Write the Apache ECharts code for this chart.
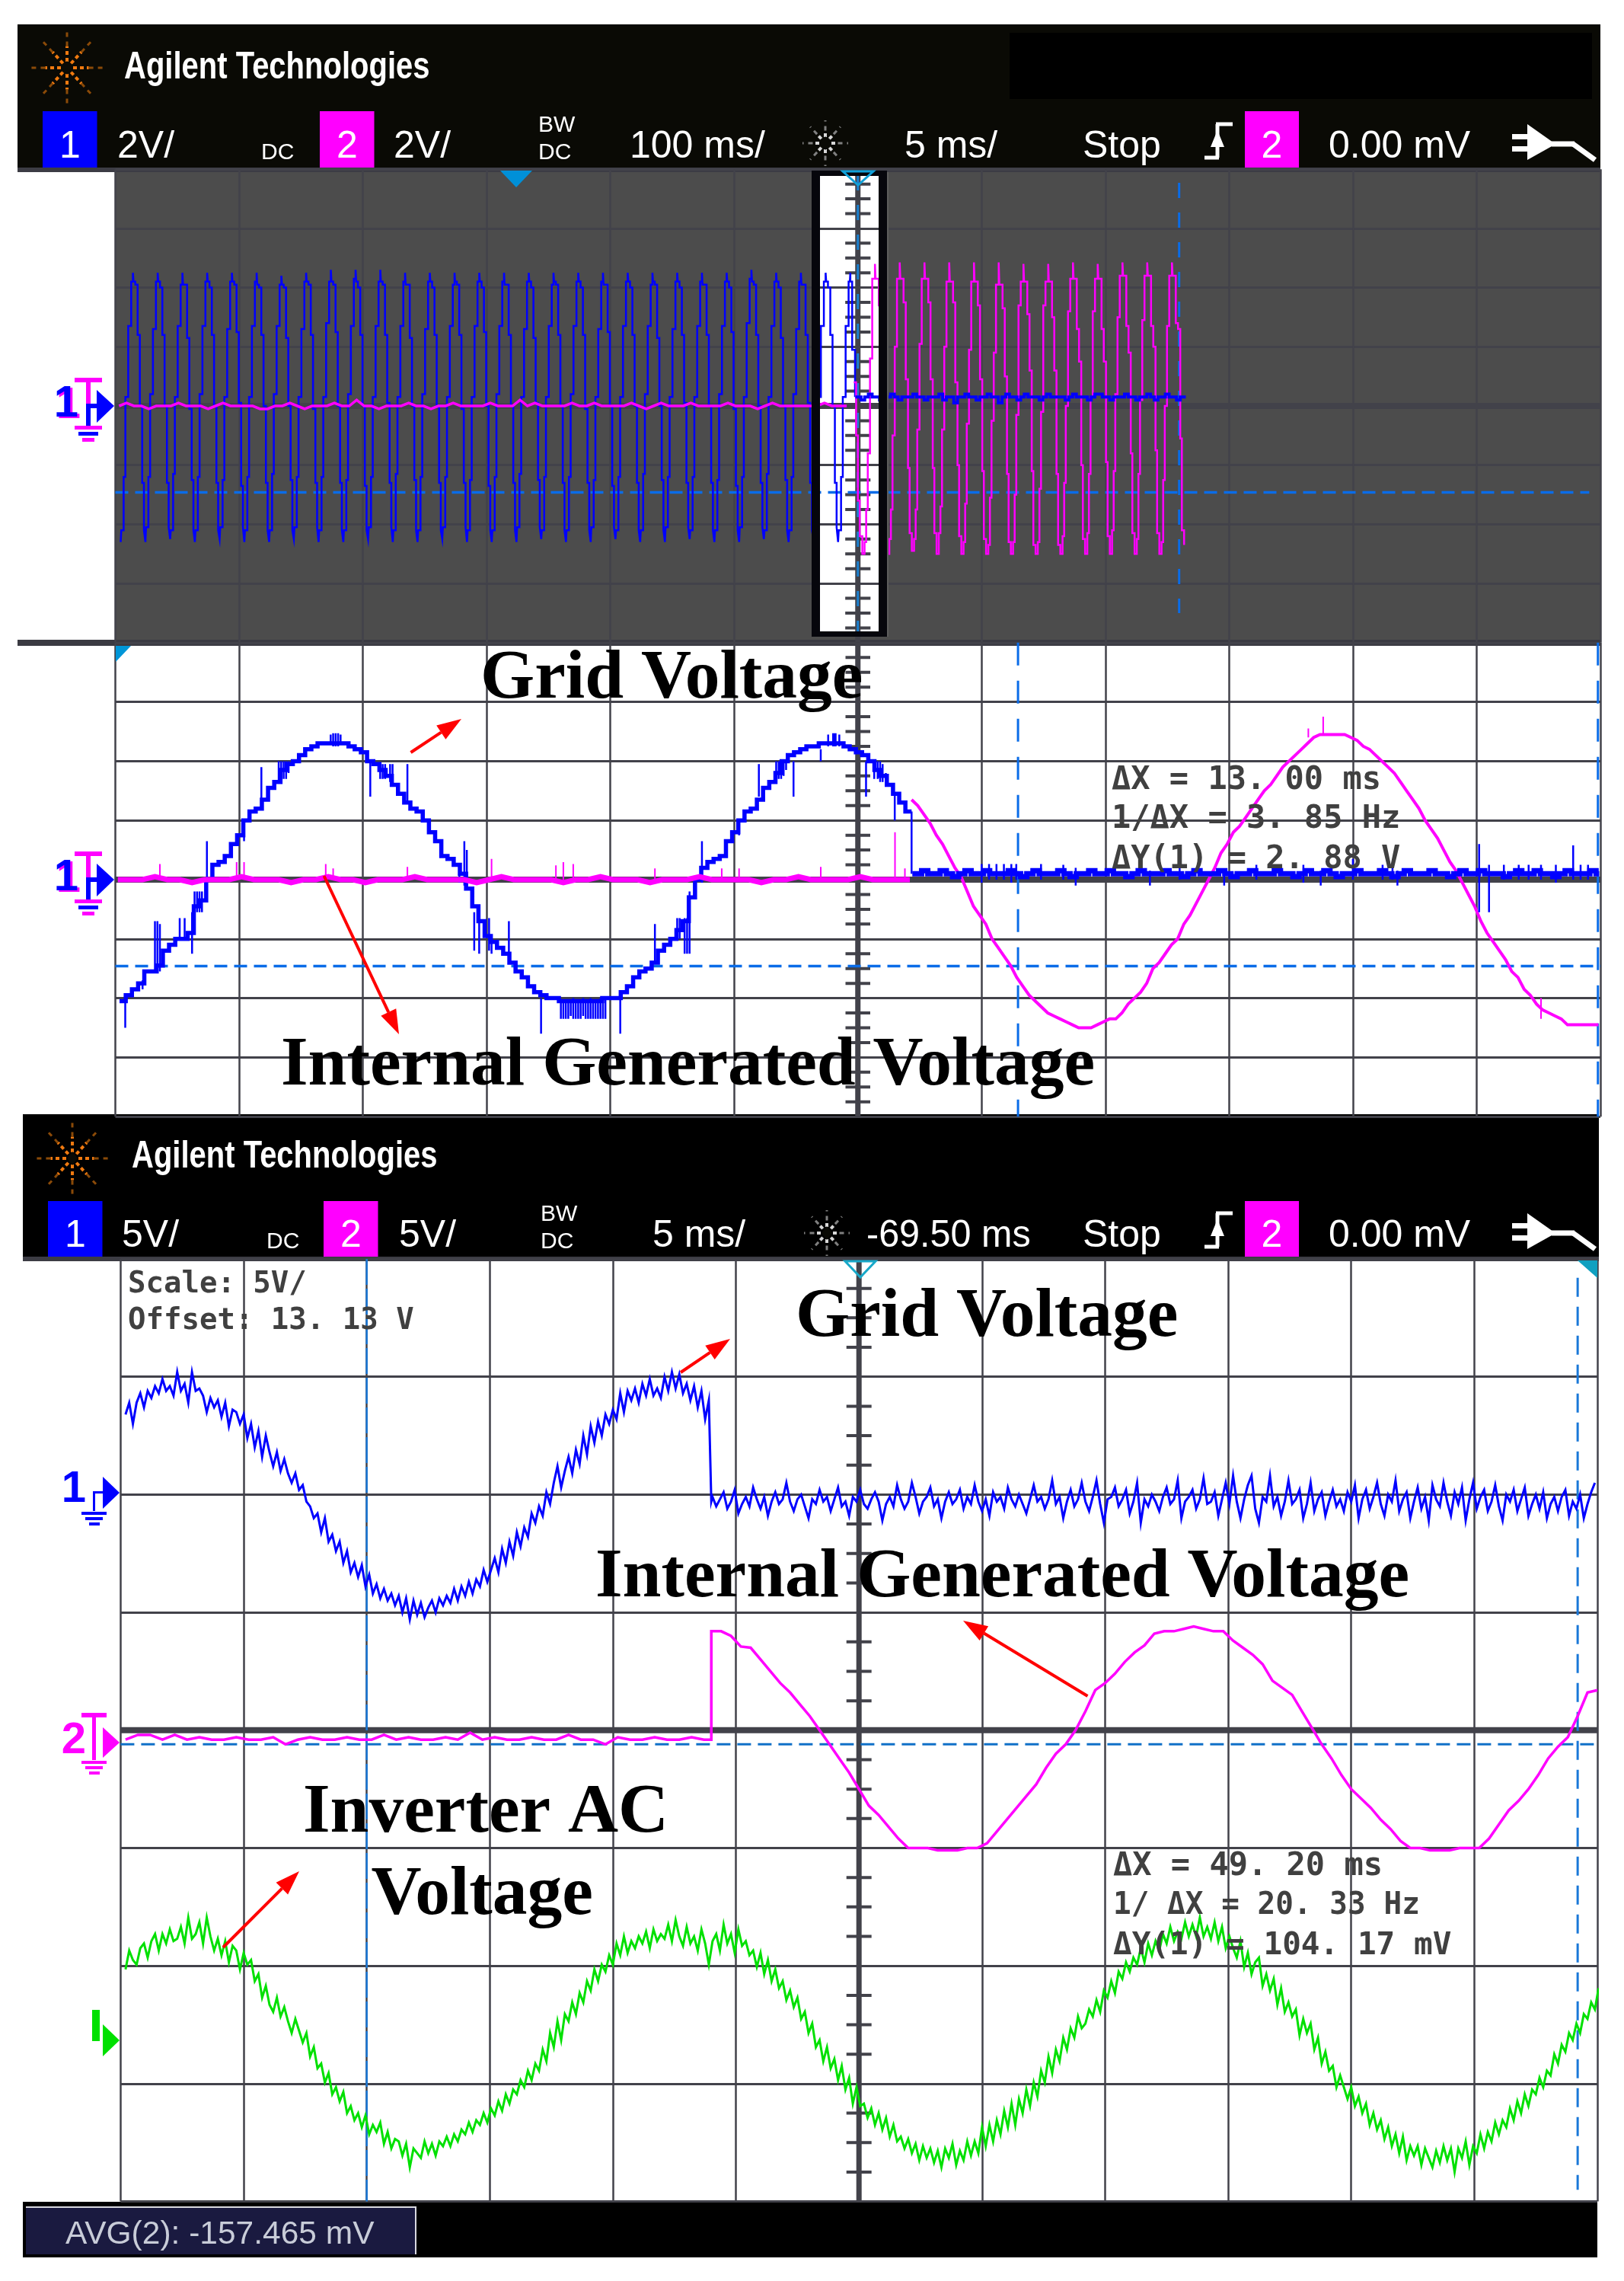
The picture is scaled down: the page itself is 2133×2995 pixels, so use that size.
<!DOCTYPE html>
<html>
<head>
<meta charset="utf-8">
<title>Agilent scope captures</title>
<script src="https://cdn.jsdelivr.net/npm/echarts@6/dist/echarts.min.js"></script>
<style>html,body{margin:0;background:#fff}#c{width:2133px;height:2995px}</style>
</head>
<body>
<div id="c"></div>
<script>
// ---- panel 1: overview, 100 ms/div, 2 V/div. one row = one cycle of the stepped wave
const ch1OverviewStart = -595.7, ch1OverviewPeriod = 19.99;
const ch1OverviewOffsets = [0, 0.5, 2.4, 3.8, 6.1, 8.5, 9.9, 10.4, 11.8, 13.7, 15.5, 17.4, 18.8];
const ch1OverviewCycles = [
  [-4.6,-4.2,-2.4,0.3,2.7,4.2,4.5,4.2,4.1,2.4,0.0,-2.6,-4.2],
  [-4.6,-4.1,-2.4,0.4,2.6,4.2,4.5,4.2,4.0,2.4,0.0,-2.6,-4.1],
  [-4.5,-4.2,-2.3,0.3,2.7,4.1,4.5,4.1,4.1,2.3,-0.1,-2.5,-4.2],
  [-4.6,-4.2,-2.4,0.4,2.7,4.2,4.5,4.2,4.0,2.4,0.0,-2.6,-4.2],
  [-4.5,-4.1,-2.5,0.3,2.6,4.2,4.5,4.2,4.1,2.5,0.1,-2.7,-4.1],
  [-4.6,-4.2,-2.4,0.3,2.7,4.2,4.5,4.1,4.0,2.4,0.0,-2.6,-4.2],
  [-4.6,-4.2,-2.3,0.4,2.7,4.1,4.4,4.1,4.0,2.3,0.0,-2.5,-4.2],
  [-4.5,-4.1,-2.4,0.3,2.6,4.2,4.5,4.2,4.1,2.4,-0.1,-2.6,-4.1],
  [-4.6,-4.2,-2.4,0.3,2.8,4.2,4.6,4.2,4.1,2.5,0.0,-2.6,-4.2],
  [-4.6,-4.2,-2.5,0.4,2.7,4.3,4.6,4.2,4.0,2.4,0.0,-2.7,-4.2],
  [-4.5,-4.1,-2.4,0.3,2.7,4.2,4.6,4.2,4.1,2.4,0.1,-2.6,-4.1],
  [-4.6,-4.2,-2.3,0.3,2.7,4.2,4.5,4.1,4.1,2.3,0.0,-2.5,-4.2],
  [-4.6,-4.2,-2.4,0.4,2.6,4.2,4.5,4.2,4.0,2.4,0.0,-2.6,-4.2],
  [-4.5,-4.1,-2.4,0.3,2.7,4.1,4.5,4.2,4.1,2.4,-0.1,-2.6,-4.1],
  [-4.6,-4.2,-2.5,0.3,2.7,4.2,4.5,4.2,4.0,2.5,0.0,-2.7,-4.2],
  [-4.6,-4.2,-2.4,0.4,2.7,4.2,4.5,4.1,4.1,2.4,0.0,-2.6,-4.2],
  [-4.6,-4.1,-2.3,0.3,2.6,4.2,4.5,4.2,4.0,2.3,0.1,-2.5,-4.1],
  [-4.5,-4.2,-2.4,0.3,2.7,4.1,4.5,4.2,4.1,2.4,0.0,-2.6,-4.2],
  [-4.6,-4.2,-2.4,0.4,2.7,4.2,4.5,4.2,4.0,2.4,-0.1,-2.6,-4.2],
  [-4.6,-4.1,-2.5,0.3,2.6,4.2,4.5,4.1,4.1,2.5,0.0,-2.7,-4.1],
  [-4.5,-4.2,-2.4,0.3,2.7,4.2,4.5,4.2,4.0,2.4,0.0,-2.6,-4.2],
  [-4.6,-4.2,-2.3,0.4,2.7,4.1,4.5,4.2,4.1,2.3,0.0,-2.5,-4.2],
  [-4.6,-4.1,-2.4,0.3,2.6,4.2,4.5,4.2,4.0,2.4,0.1,-2.6,-4.1],
  [-4.5,-4.2,-2.4,0.3,2.7,4.2,4.5,4.1,4.1,2.4,0.0,-2.6,-4.2],
  [-4.6,-4.2,-2.5,0.4,2.7,4.2,4.5,4.2,4.0,2.5,-0.1,-2.7,-4.2],
  [-4.6,-4.1,-2.4,0.3,2.8,4.3,4.6,4.2,4.1,2.4,0.0,-2.6,-4.1],
  [-4.5,-4.2,-2.3,0.3,2.7,4.2,4.5,4.2,4.0,2.3,0.0,-2.5,-4.2],
  [-4.6,-4.2,-2.4,0.4,2.6,4.2,4.5,4.1,4.1,2.4,0.1,-2.6,-4.2],
  [-4.5,-4.1,-2.4,0.3,2.7,4.2,4.5,4.2,4.0,2.4,0.0,-2.6,-4.1],
  [-4.6,-4.2,-2.4,0.3,2.7,4.2,4.5]
];
const ch1OverviewTail = [[-6.5,4.2],[-4.6,1.9],[-2.3,0.3]];
const ch1OverviewFlat = [ // every 3 ms from -2 ms
  0.3,0.3,0.2,0.3,0.4,0.3,0.3,0.2,0.3,0.3,0.4,0.3,0.2,0.3,0.3,0.3,0.4,0.3,0.3,0.2,
  0.3,0.3,0.3,0.4,0.2,0.3,0.3,0.1,0.3,0.3,0.4,0.3,0.3,0.2,0.3,0.3,0.4,0.3,0.3,0.1,
  0.3,0.4,0.3,0.3,0.2,0.3,0.4,0.3,0.3,0.3,0.2,0.3,0.4,0.3,0.3,0.3,0.3,0.2,0.3,0.4,
  0.3,0.3,0.3,0.2,0.3,0.4,0.4,0.3,0.3,0.2,0.3,0.3,0.3,0.4,0.3,0.3,0.2,0.3,0.3,0.4,
  0.3,0.2,0.3,0.3,0.4,0.3,0.3,0.2,0.3,0.3
];
const ch2OverviewFlat = [ // every 6 ms from -597 ms
  0,0.1,0,0,-0.1,0,0,0,0.1,0,0,0,-0.1,0,0.1,0,0,0,0,-0.1,-0.1,0,0,0.1,0,-0.1,0,0,0,0.1,
  0,0,0.2,0,0,-0.1,0,0,0,0.1,0,0,-0.1,0,0,0.1,0,0,0,0,0.1,0,0,0,0.2,0,0.1,0,0,0,
  0,0.1,0,0,0.1,0,0,0,0,0.1,0,-0.1,0,0.1,0,0,0,0.1,0,0,0,0,0.1,0,0,0,-0.1,0,0.1,0,
  0,0,0,0,0,0.1,0,0,0
];
const ch2OverviewLead = [[-3.3,0.8],[-1.4,-1.0],[0,-3.2],[1.5,-4.4]];
const ch2OverviewStart = 3.6, ch2OverviewPeriod = 20;
const ch2OverviewOffsets = [0, 1.8, 3.1, 4.4, 6.2, 8, 10.2, 10.7, 13.3, 15.1, 16.9, 18.2];
const ch2OverviewCycles = [
  [-5.0,-4.6,-3.5,-1.6,1.6,4.3,4.8,4.3,3.4,0.9,-2.2,-4.2],
  [-5.0,-4.5,-3.5,-1.0,2.0,4.3,4.85,4.3,3.5,0.9,-2.1,-4.3],
  [-4.9,-4.5,-3.5,-0.8,2.1,4.3,4.85,4.3,3.5,0.9,-2.1,-4.3],
  [-5.0,-4.3,-3.4,-0.8,2.0,4.2,4.85,4.2,3.5,0.8,-2.0,-4.4],
  [-5.0,-4.6,-3.3,-0.6,1.9,4.2,4.85,4.2,3.4,0.9,-2.2,-4.5],
  [-5.0,-4.7,-3.1,-0.5,1.8,4.1,4.85,4.1,3.3,1.0,-2.3,-4.6],
  [-5.0,-4.6,-3.0,-0.3,3.4,4.2,4.8,4.2,3.1,1.2,-2.2,-4.7],
  [-5.0,-4.6,-2.8,-0.2,3.4,4.2,4.8,4.2,3.0,1.2,-2.3,-4.7],
  [-5.0,-4.4,-2.6,0.0,3.2,4.3,4.85,4.3,2.6,1.5,-2.0,-4.5],
  [-5.0,-4.3,-2.3,0.3,3.2,4.3,4.8,4.3,2.6,1.5,-1.9,-4.4],
  [-5.0,-4.2,-2.2,0.4,3.0,4.4,4.85,4.4,2.7,1.8,-1.6,-4.3],
  [-5.0,-4.5,-2.3,0.2,2.9,4.4,4.85,4.4,2.7,2.0,-1.5,-4.3],
  [-5.0,-4.6,-2.5,0.0,2.7,4.4,4.85,4.4,2.8,2.6,-1.1,-4.2],
  [-4.7]
];

// ---- panel 2: 5 ms/div, 2 V/div
const ch1ZoomStart = -29.83, ch1ZoomStep = 0.25;
const ch1Zoom = [
  -4.1,-3.9,-3.7,-3.5,-3.1,-3.1,-2.9,-2.4,-2.2,-2.0,-2.0,-1.8,-0.9,-0.7,0,0.5,0.6,0.8,1.2,1.5,
  2.0,2.3,2.4,2.7,3.1,3.3,3.7,3.9,4.0,4.2,4.4,4.5,4.6,4.6,4.6,4.6,4.6,4.5,4.4,4.3,
  4.0,3.9,3.7,3.5,3.2,2.9,2.6,2.4,2.3,2.0,1.6,1.3,0.8,0.7,0.5,0.2,-0.3,-0.9,-1.4,-1.9,
  -2.1,-2.3,-2.5,-2.8,-3.1,-3.3,-3.6,-3.8,-3.9,-4.0,-4.0,-4.1,-4.1,-4.1,-4.1,-4.1,-4.1,-4.1,-4.0,-4.0,
  -4.0,-3.8,-3.6,-3.3,-3.1,-3.0,-2.8,-2.4,-2.2,-2.0,-1.7,-1.4,-0.6,0,0.4,0.6,0.7,0.8,1.3,1.6,
  2.0,2.3,2.4,2.7,3.1,3.3,3.6,4.0,4.2,4.3,4.4,4.5,4.5,4.6,4.6,4.6,4.6,4.5,4.4,4.3,
  4.2,4.0,3.7,3.5,3.2,2.9,2.6,2.3,2.3
];
// glitches on the blue trace: [t, low, high]
const ch1ZoomSpikes = [
  [-29.6,-5.0,-4.0],[-28.9,-3.7,-3.4],[-28.4,-3.1,-1.4],[-28.3,-3.1,-1.4],[-28.2,-3.1,-1.5],[-27.4,-2.0,-1.3],[-27.2,-2.0,-1.3],
  [-26.9,-2.5,-1.1],[-26.8,-1.1,-0.4],[-26.7,-1.1,-0.4],[-26.6,-1.1,-0.4],[-26.5,-1.1,-0.4],[-26.3,-0.2,1.3],[-24.8,1.3,1.9],[-24.1,2.7,3.8],
  [-23.4,3.3,4.0],[-23.3,3.3,4.0],[-23.2,3.4,4.0],[-23.1,3.4,4.0],[-23.0,3.6,4.0],
  [-21.3,4.6,4.9],[-21.2,4.5,4.94],[-21.1,4.5,4.94],[-21.0,4.5,4.94],[-20.9,4.6,4.9],
  [-19.7,2.8,4.0],[-19.3,3.4,3.9],[-19.2,3.4,3.9],[-19.1,3.4,3.9],[-18.9,3.3,3.9],[-18.8,3.3,3.9],[-18.2,2.6,3.9],
  [-16.1,-0.1,0.5],[-15.9,-0.2,1.3],[-15.8,-0.2,1.0],[-15.5,-2.4,-1.1],[-15.3,-2.5,-1.1],[-14.9,-2.4,-1.3],[-14.8,-2.5,-2.0],[-14.1,-2.8,-1.4],
  [-12.8,-5.2,-4.0],[-12.0,-4.7,-4.1],[-11.9,-4.7,-4.1],[-11.8,-4.7,-4.1],[-11.7,-4.7,-4.1],[-11.6,-4.6,-4.1],[-11.5,-4.7,-4.0],[-11.4,-4.7,-4.1],
  [-11.3,-4.7,-4.1],[-11.2,-4.7,-4.1],[-11.1,-4.6,-4.0],[-11.0,-4.7,-4.1],[-10.9,-4.7,-4.1],[-10.8,-4.7,-4.0],[-10.7,-4.7,-4.1],[-10.6,-4.7,-4.1],
  [-10.5,-4.7,-4.1],[-10.4,-4.7,-4.0],[-10.3,-4.7,-4.0],[-10.2,-4.7,-4.0],[-9.6,-5.2,-4.0],[-8.2,-2.8,-1.5],[-7.3,-2.0,-1.3],[-7.2,-2.0,-1.3],
  [-7.0,-2.5,-1.3],[-6.9,-2.5,-1.3],[-6.8,-2.5,-0.4],[-6.3,-0.1,1.3],[-4.8,1.5,2.0],[-4.0,2.8,3.9],[-3.3,3.4,4.0],[-3.2,3.4,4.0],[-3.1,3.4,4.0],
  [-3.0,3.5,4.0],[-2.9,3.7,4.0],[-2.6,2.8,4.0],[-1.5,4.0,4.4],[-1.2,4.5,4.9],[-1.0,4.5,4.94],[-0.95,4.5,4.94],[-0.9,4.5,4.94],[-0.75,4.5,4.9],
  [0.33,2.8,4.0],[0.66,3.4,4.0],[0.8,3.4,4.0],[0.9,3.3,4.0],[1.0,3.3,3.9],[1.13,3.3,3.6],[1.49,2.0,2.9]
];
const ch2ZoomStart = -29.9, ch2ZoomStep = 0.5;
const ch2ZoomFlat = [
  0,0,0,0.1,0,0,-0.1,0,0,0,0.1,0,0,0,-0.1,0,0,0.1,0,0,-0.1,0,0,0,0.1,0,0,0,0,-0.1,
  0,0.1,0,0,0,0,-0.1,0,0,0.1,0,0,0,-0.1,0,0,0,0.1,0,0,0,0,-0.1,0,0,0.1,0,0,0,0,
  0.1,0,0,0,0
];
const ch2ZoomSpikes = [
  [-28.2,0.53],[-25.1,0.59],[-24.8,0.59],[-21.5,0.53],[-21.2,0.38],[-18.2,0.43],[-14.8,0.7],[-12.2,0.48],[-11.9,0.59],
  [-11.5,0.53],[-8.2,0.38],[-5.5,0.38],[-4.8,0.38],[-1.5,0.43],[1.5,1.6],[1.9,0.38]
];
const ch2ZoomWaveStart = 2.17, ch2ZoomWaveStep = 0.25;
const ch2ZoomWave = [
  2.7,2.5,2.2,1.9,1.5,1.2,0.8,0.4,0.1,-0.4,-0.9,-1.2,-1.5,-2.0,-2.3,-2.6,-2.9,-3.3,-3.6,-3.9,
  -4.1,-4.3,-4.5,-4.6,-4.7,-4.8,-4.9,-5.0,-5.0,-5.0,-4.9,-4.8,-4.7,-4.7,-4.5,-4.2,-4.0,-3.8,-3.5,-3.0,
  -2.8,-2.5,-2.2,-2.0,-1.5,-1.2,-0.8,-0.4,0,0.4,0.9,1.2,1.6,1.8,2.1,2.4,2.7,3.0,3.2,3.5,
  3.8,4.0,4.2,4.4,4.6,4.8,4.9,4.9,4.9,4.9,4.9,4.8,4.7,4.5,4.4,4.2,4.0,3.8,3.6,3.3,
  3.0,2.7,2.4,2.0,1.7,1.4,1.0,0.6,0.3,-0.1,-0.5,-0.9,-1.4,-1.8,-2.1,-2.4,-2.7,-3.1,-3.3,-3.7,
  -3.9,-4.2,-4.4,-4.5,-4.6,-4.7,-4.9,-4.9,-4.9,-4.9,-4.9,-4.9
];
const ch1ZoomFlatStart = 2.2, ch1ZoomFlatStep = 0.25;
const ch1ZoomFlat = [
  0.2,0.2,0.3,0.2,0.2,0.3,0.2,0.1,0.2,0.3,0.2,0.2,0.3,0.2,0.2,0.2,0.3,0.2,0.1,0.2,
  0.3,0.2,0.2,0.2,0.3,0.2,0.1,0.2,0.2,0.3,0.2,0.2,0.3,0.2,0.2,0.1,0.2,0.3,0.2,0.2,
  0.2,0.3,0.2,0.2,0.1,0.2,0.3,0.2,0.2,0.2,0.3,0.2,0.1,0.2,0.2,0.3,0.2,0.2,0.2,0.3,
  0.2,0.2,0.1,0.2,0.3,0.2,0.2,0.3,0.2,0.1,0.2,0.2,0.3,0.2,0.2,0.2,0.3,0.2,0.1,0.2,
  0.3,0.2,0.2,0.2,0.3,0.2,0.2,0.1,0.2,0.3,0.2,0.2,0.3,0.2,0.2,0.2,0.1,0.2,0.3,0.2,
  0.2,0.3,0.2,0.2,0.1,0.2,0.3,0.2,0.2,0.2,0.3,0.2
];
const ch1ZoomFlatSpikes = [
  [5,-0.1,0.53],[5.3,0,0.53],[5.6,0,0.53],[5.9,0,0.53],[6.2,-0.1,0.53],[6.4,0,0.53],[7.4,0,0.53],[8.3,0,0.5],[8.8,-0.2,0.4],
  [11.8,-0.2,0.3],[13,0,0.5],[14.8,-0.2,0.3],[16.1,0,0.5],[18,-0.1,0.5],[18.7,-0.2,0.3],[20,0,0.7],[21.2,0,0.5],[21.6,0,0.5],
  [21.8,-0.2,0.3],[25.1,-1.1,1.2],[25.5,-1.1,0.5],[26.1,0,0.5],[26.7,0,0.5],[27.1,0,0.5],[27.6,0,0.5],[28.2,-0.1,0.5],[28.9,0,1.16],
  [29.2,0,0.5],[29.5,0,0.5]
];
const ch2ZoomWaveSpikes = [[18.8,4.9,5.5],[18.2,4.8,5.1],[27.6,-4.7,-4.0]];

// ---- panel 3: 5 ms/div, 5 V/div, three channels
const scopeStart = -29.8, scopeStep = 0.15;
const ch1ScopeWave = [
  3.4,3.9,3.0,3.9,4.3,3.7,4.4,4.1,4.6,4.3,
  4.9,4.4,4.6,4.2,5.2,4.4,4.7,3.9,5.2,4.4,
  4.5,4.2,3.5,4.1,3.7,4.0,3.3,3.9,2.9,3.6,
  3.5,3.0,3.4,2.4,3.0,2.0,2.7,1.6,2.5,1.8,
  1.2,1.8,1.0,1.5,0.9,0.5,0.9,0.2,0.4,-0.3,
  -0.5,-1.0,-0.8,-1.6,-1.0,-2.0,-1.7,-2.4,-2.0,-2.9,
  -2.4,-3.3,-2.9,-3.5,-3.0,-3.9,-3.4,-4.2,-3.8,-4.4,
  -4.0,-4.5,-4.2,-4.7,-4.3,-5.0,-4.4,-5.3,-4.5,-5.1,
  -4.6,-5.2,-4.8,-4.5,-5.0,-4.4,-4.7,-4.3,-4.6,-4.0,
  -4.5,-3.9,-4.3,-3.7,-4.2,-3.6,-3.9,-3.2,-3.7,-3.2,
  -2.7,-3.3,-2.3,-2.9,-2.0,-2.6,-1.6,-2.2,-1.4,-1.8,
  -0.8,-1.2,-0.5,-0.9,0.1,-0.4,0.5,1.2,0.3,1.0,
  1.6,0.9,1.9,1.3,2.5,1.7,2.9,2.2,3.1,2.5,
  3.4,3.0,3.6,3.2,4.3,3.5,4.4,4.0,4.5,3.9,
  4.7,4.2,4.9,4.2,4.5,4.1,5.0,4.4,5.2,4.5,
  5.1,4.3,4.7,4.0,4.6,3.7,4.4,3.2,4.0
];
const ch1ScopeDrop = [[-6.0,-0.3]];
const ch1ScopeFlatStart = -5.95;
const ch1ScopeFlat = [
  -0.1,-0.5,-0.2,0.1,-0.6,-0.3,0.2,-0.8,-0.4,-0.1,
  -0.5,0.3,-0.2,-0.6,-0.1,-0.9,-0.3,0.1,-0.4,-0.2,
  0.5,-0.3,-0.7,-0.2,0.0,-0.5,-1.0,-0.2,-0.4,0.2,
  -0.3,-0.1,-0.7,-0.2,0.3,-0.5,-0.3,-0.9,-0.1,-0.3,
  0.2,-0.4,-0.6,-0.2,0.1,-0.3,-1.1,-0.4,-0.1,-0.5,
  0.4,-0.2,-0.6,-0.3,0.5,-0.1,-0.8,-0.3,-0.1,0.3,
  -0.5,-0.2,-1.0,-0.3,0.1,-0.4,-0.2,0.2,-0.6,-0.1,
  -0.4,0.4,-0.3,-0.7,-0.2,-0.9,0.1,-0.3,-0.1,-0.6,
  0.3,-0.2,-0.5,0.0,-0.4,-0.8,-0.2,0.4,-0.3,-0.1,
  -0.6,-0.2,0.6,-0.4,-0.1,-1.0,-0.3,0.2,-0.5,-0.2,
  0.5,-0.3,-0.7,-0.1,0.6,-0.4,-1.2,-0.2,-0.1,0.3,
  -0.5,-0.2,0.2,-0.8,-0.3,0.5,-1.2,-0.2,-0.5,0.0,
  -0.3,-0.7,-0.1,0.3,-0.4,-0.2,0.6,-1.0,-0.3,-0.1,
  0.2,-0.6,-0.2,0.7,-0.4,-0.3,0.1,-0.9,-0.2,0.5,
  -0.4,0.8,-0.3,-1.0,-0.2,0.4,0.8,-0.6,-1.2,-0.1,
  -0.3,0.8,-0.5,-0.1,-0.9,-0.3,0.6,-0.4,-0.2,0.2,
  -1.0,-0.4,0.5,-0.7,-0.2,0.1,-0.9,-0.3,0.2,-0.5,
  -0.2,-0.7,0.1,-0.3,0.4,-1.0,-0.2,0.2,-0.6,-0.1,
  0.5,-0.4,-0.9,0.0,-0.3,0.6,-0.7,-0.2,0.1,-1.0,
  -0.3,0.3,-0.6,-0.1,-1.1,0.4,-0.2,-0.5,0.5,-0.3,
  -0.9,0.1,-0.4,0.3,-1.1,-0.2,0.5,-0.6,-0.1,0.2,
  -0.7,-0.3,0.4,-0.5,-1.1,0.0,-0.3,0.2,-0.7,-0.2,
  0.3,-0.9,-0.4,0.0,-0.6,0.1,-1.0,-0.4,-0.1,-0.7,
  -0.1,0.2,-0.9,-0.3,-0.6,0.0,-1.0,-0.4,0.1,0.5
];
const ch2ScopeFlatStart = -29.8, ch2ScopeFlatStep = 0.5;
const ch2ScopeFlat = [
  0,0.2,0.2,0,0.2,0,0.1,0,0,0.1,0,0,0.1,-0.2,0,0.1,0,0,0.1,0,
  0,0.2,0,0.1,0,0,0.1,0,0.3,0,0.1,0,0,0.1,0,0,0.2,0,0,-0.2,
  0.1,0,0,0.1,0,0,0.1,0
];
const ch2ScopeWaveStart = -6, ch2ScopeWaveStep = 0.4;
const ch2ScopeWave = [
  4.6,4.6,4.4,3.95,3.9,3.4,2.9,2.4,2.0,1.5,1.0,0.4,-0.2,-0.8,-1.4,-2.1,-2.8,-3.2,-3.7,-4.2,
  -4.6,-4.6,-4.6,-4.7,-4.7,-4.7,-4.6,-4.6,-4.4,-3.9,-3.4,-2.9,-2.4,-1.9,-1.2,-0.6,-0.2,0.4,1.2,2.1,
  2.4,2.8,3.3,3.7,4.0,4.5,4.6,4.6,4.7,4.8,4.7,4.6,4.6,4.2,3.9,3.6,3.2,2.5,2.2,1.9,
  1.2,0.5,-0.2,-0.8,-1.5,-2.1,-2.5,-2.9,-3.4,-3.8,-4.3,-4.6,-4.6,-4.7,-4.7,-4.7,-4.6,-4.6,-4.6,-4.2,
  -3.6,-3.0,-2.6,-2.1,-1.5,-0.8,-0.3,0.1,1.0,2.0,2.1
];
const ch3Scope = [
  3.1,3.9,3.5,3.3,4.0,4.2,3.6,4.3,4.6,3.9,
  4.6,4.2,4.8,4.3,4.4,4.9,4.2,5.3,4.4,4.6,
  5.1,4.2,5.3,4.5,3.9,4.4,3.7,4.3,3.4,4.1,
  3.9,3.1,3.8,3.3,3.5,2.6,2.9,1.9,2.4,1.6,
  1.3,1.9,1.1,1.5,0.9,0.4,1.0,0.5,0.0,0.4,
  -0.6,-0.2,-1.1,-0.9,-1.7,-1.3,-2.2,-1.9,-2.5,-2.1,
  -3.0,-2.7,-3.3,-3.0,-3.6,-3.1,-3.9,-3.5,-3.8,-3.4,
  -4.3,-3.8,-4.5,-4.1,-4.2,-4.8,-4.3,-5.3,-4.5,-4.7,
  -4.9,-4.2,-4.7,-4.3,-4.8,-4.2,-4.4,-4.0,-4.4,-3.9,
  -4.2,-3.7,-3.9,-3.4,-3.8,-3.3,-3.5,-3.0,-3.4,-2.8,
  -3.1,-2.5,-2.9,-2.2,-2.6,-2.0,-2.2,-1.6,-1.9,-1.2,
  -1.6,-0.9,-1.2,-0.3,-0.8,0.4,-0.2,0.9,0.1,1.2,
  0.9,1.7,1.2,2.1,1.7,2.6,2.2,3.1,2.6,3.3,
  3.0,3.7,3.3,4.2,3.7,4.5,3.8,4.3,4.0,4.5,
  4.2,4.7,4.0,4.8,4.3,4.6,4.4,5.0,4.3,5.2,
  4.5,4.1,4.9,4.2,4.5,3.9,4.8,4.2,3.3,4.3,
  4.6,3.9,5.0,4.2,4.6,3.8,4.8,4.1,4.3,3.7,
  3.9,3.2,3.8,2.9,3.5,2.6,3.1,2.3,2.6,1.8,
  2.2,1.5,1.9,1.0,1.3,0.4,0.8,-0.2,0.1,-0.8,
  -0.2,-1.1,-0.7,-1.6,-1.0,-2.0,-1.5,-2.6,-1.9,-2.7,
  -2.6,-3.2,-2.8,-3.5,-3.0,-3.7,-3.2,-4.0,-3.5,-4.2,
  -4.0,-4.5,-4.1,-4.7,-4.3,-5.0,-4.4,-4.9,-4.5,-5.1,
  -4.6,-5.3,-4.5,-4.9,-4.3,-5.2,-4.6,-5.0,-4.2,-4.8,
  -4.2,-4.7,-3.6,-4.4,-3.5,-4.2,-3.3,-3.9,-2.9,-3.6,
  -2.6,-3.5,-2.4,-3.0,-2.0,-2.7,-1.7,-2.3,-1.2,-1.7,
  -0.6,-1.3,-0.3,-0.8,0.2,-0.3,0.6,0.2,1.1,0.6,
  0.8,1.4,1.1,1.8,1.3,2.2,1.9,2.6,2.1,3.0,
  2.7,3.4,3.0,3.6,3.3,4.0,3.4,4.2,3.7,4.3,
  3.9,4.6,4.2,4.9,4.3,4.7,4.4,5.1,4.5,5.0,
  4.5,5.3,4.5,4.9,4.4,5.1,4.3,4.9,4.0,4.5,
  4.0,3.6,4.3,3.2,3.8,2.9,3.4,3.6,2.4,2.9,
  2.2,2.7,1.6,2.3,1.3,1.7,1.1,1.4,0.3,1.0,
  0.4,0.8,-0.3,0.2,-0.9,-0.4,-1.2,-1.0,-1.9,-1.4,
  -1.9,-2.4,-1.9,-2.7,-2.3,-3.0,-2.6,-3.5,-3.0,-3.7,
  -3.3,-4.1,-3.6,-4.4,-3.9,-4.7,-4.0,-5.0,-4.4,-4.8,
  -4.4,-5.2,-4.5,-4.9,-5.3,-4.6,-5.1,-4.4,-5.0,-4.5,
  -5.5,-4.5,-4.9,-4.2,-5.2,-4.4,-4.7,-3.9,-4.5,-3.8,
  -4.2,-3.4,-3.9,-3.3,-3.6,-2.8,-3.3,-2.5,-3.0,-2.2,
  -2.7,-2.0,-2.2,-1.5,-1.9,-1.2,-1.4,-0.5,-0.9,-0.1,
  -0.4,0.4,0.1,0.8,0.4,1.2,1.0,1.7,1.4,2.3
];

// page furniture
const colors = { blue: "#0000ff", magenta: "#ff00ff", green: "#00e000", grid: "#42424a", cursor: "#0a6ce8", red: "#ff0000" };
const panel1 = { left: 151.5, top: 222.2, width: 1950.5, height: 621.6 };
const panel2 = { left: 151.5, top: 843.8, width: 1950.5, height: 622.4 };
const panel3 = { left: 158.4, top: 1653, width: 1939.6, height: 1237.6 };

function sampled(t0, dt, vals) { return vals.map((v, i) => [t0 + i * dt, v]); }
function cycles(t0, period, offsets, rows) {
  const out = [];
  rows.forEach((row, k) => row.forEach((v, i) => out.push([t0 + k * period + offsets[i], v])));
  return out;
}
function spikes(list) {
  const out = [];
  list.forEach(s => { out.push([s[0], s[1]], [s[0], s[2]], [s[0], null]); });
  return out;
}
function upSpikes(list, base) { return spikes(list.map(s => [s[0], base, s[1]])); }

function line(g, y, data, color, width, extra) {
  return Object.assign({
    type: "line", xAxisIndex: g, yAxisIndex: y, data, showSymbol: false, silent: true, animation: false, z: 5,
    lineStyle: { color, width, cap: "butt", join: "miter" }, itemStyle: { color },
  }, extra || {});
}
function dash(g, y, data, color, width, pattern) {
  return line(g, y, data, color, width, { z: 4, lineStyle: { color, width, type: pattern, cap: "butt" } });
}
// thick centre axes with quarter-division ticks
function centreCross(g, y, xMin, xMax, yMin, yMax, yCentre, yStep, halfTick, skip) {
  const ticks = [];
  for (let v = yMin; v <= yMax + 1e-6; v += yStep) {
    const q = Math.round((v - yMin) / yStep);
    if (q % 4 === skip) continue;
    ticks.push([-halfTick, v], [halfTick, v], [0, null]);
  }
  return [
    line(g, y, [[xMin, yCentre], [xMax, yCentre]], colors.grid, 8, { z: 3 }),
    line(g, y, [[0, yMin], [0, yMax]], colors.grid, 7, { z: 3 }),
    line(g, y, ticks, colors.grid, 4, { z: 3 }),
  ];
}

const series = [
  // panel 1
  ...centreCross(0, 0, -600, 600, -8, 8, 0, 0.5, 10.2, 0),
  dash(0, 0, [[-600, -2.92], [591, -2.92]], colors.cursor, 3.5, [17, 9]),
  dash(0, 0, [[259.6, 7.54], [259.6, -7]], colors.cursor, 3, [20, 19]),
  dash(0, 0, [[0, 7.8], [0, -7.8]], "#1a80d0", 3, [20, 19]),
  line(0, 0, cycles(ch1OverviewStart, ch1OverviewPeriod, ch1OverviewOffsets, ch1OverviewCycles).concat(ch1OverviewTail), colors.blue, 2.5, { step: "end" }),
  line(0, 0, sampled(-597, 6, ch2OverviewFlat), colors.magenta, 3.5, { z: 6 }),
  line(0, 0, ch2OverviewLead.concat(cycles(ch2OverviewStart, ch2OverviewPeriod, ch2OverviewOffsets, ch2OverviewCycles)), colors.magenta, 2.5, { step: "end", z: 6 }),
  line(0, 0, sampled(-2, 3, ch1OverviewFlat), colors.blue, 4, { step: "middle", z: 7 }),
  // panel 2
  ...centreCross(1, 1, -30, 30, -8, 8, 0, 0.5, 0.5, 0),
  dash(1, 1, [[-30, -2.92], [30, -2.92]], colors.cursor, 3.5, [17, 9]),
  dash(1, 1, [[6.47, 8], [6.47, -8]], colors.cursor, 3, [30, 20]),
  dash(1, 1, [[29.9, 8], [29.9, -8]], colors.cursor, 3, [30, 20]),
  line(1, 1, sampled(ch1ZoomStart, ch1ZoomStep, ch1Zoom), colors.blue, 5.5, { step: "end" }),
  line(1, 1, spikes(ch1ZoomSpikes), colors.blue, 2.5),
  line(1, 1, sampled(ch2ZoomStart, ch2ZoomStep, ch2ZoomFlat), colors.magenta, 7, { z: 6 }),
  line(1, 1, upSpikes(ch2ZoomSpikes, 0), colors.magenta, 2, { z: 6 }),
  line(1, 1, sampled(ch2ZoomWaveStart, ch2ZoomWaveStep, ch2ZoomWave), colors.magenta, 4, { z: 6 }),
  line(1, 1, spikes(ch2ZoomWaveSpikes), colors.magenta, 2, { z: 6 }),
  line(1, 1, [[2.17, 2.3], [2.17, 0.2]], colors.blue, 2.5, { z: 7 }),
  line(1, 1, sampled(ch1ZoomFlatStart, ch1ZoomFlatStep, ch1ZoomFlat), colors.blue, 7, { step: "middle", z: 7 }),
  line(1, 1, spikes(ch1ZoomFlatSpikes), colors.blue, 2.5, { z: 7 }),
  // panel 3: one grid, three channel axes
  ...centreCross(2, 2, -30, 30, -30, 10, -10, 1.25, 0.51, 0),
  dash(2, 3, [[-30, -0.2], [30, -0.2]], "#1070c8", 3, [18, 9]),
  dash(2, 2, [[-20, 10], [-20, -30]], "#1a78d8", 2.5, [34, 5]),
  dash(2, 2, [[29.2, 9.2], [29.2, -29.5]], "#1a78d8", 3, [25, 13]),
  line(2, 2, sampled(scopeStart, scopeStep, ch1ScopeWave).concat(ch1ScopeDrop, sampled(ch1ScopeFlatStart, scopeStep, ch1ScopeFlat)), colors.blue, 3),
  line(2, 3, sampled(ch2ScopeFlatStart, ch2ScopeFlatStep, ch2ScopeFlat).concat([[-6, 0]], sampled(ch2ScopeWaveStart, ch2ScopeWaveStep, ch2ScopeWave)), colors.magenta, 3.5),
  line(2, 4, sampled(scopeStart, scopeStep, ch3Scope), colors.green, 3),
];

function xAxis(gridIndex, min, max, interval) {
  return {
    type: "value", gridIndex, min, max, interval, z: 3, silent: true,
    axisLine: { show: false }, axisTick: { show: false }, axisLabel: { show: false },
    splitLine: { show: true, lineStyle: { color: colors.grid, width: 2.5 } },
  };
}
function yAxis(gridIndex, min, max, interval, grid) {
  return {
    type: "value", gridIndex, min, max, interval, z: 3, silent: true,
    axisLine: { show: false }, axisTick: { show: false }, axisLabel: { show: false },
    splitLine: { show: !!grid, lineStyle: { color: colors.grid, width: 3 } },
  };
}

// ---- header bars, marker glyphs, captions
const SANS = '"Liberation Sans", Arial, sans-serif';
const SERIF = '"Liberation Serif", "Times New Roman", serif';
const MONO = '"DejaVu Sans Mono", monospace';
const g = [];
function rect(x, y, w, h, fill, z) { g.push({ type: "rect", silent: true, z: z == null ? 1 : z, shape: { x, y, width: w, height: h }, style: { fill } }); }
function poly(points, fill, z) { g.push({ type: "polygon", silent: true, z: z == null ? 9 : z, shape: { points }, style: { fill } }); }
function seg(x1, y1, x2, y2, stroke, lineWidth, z, lineDash) {
  g.push({ type: "line", silent: true, z: z == null ? 9 : z, shape: { x1, y1, x2, y2 }, style: { stroke, lineWidth, lineDash: lineDash || null } });
}
function txt(x, base, text, size, fill, family, opts) {
  opts = opts || {};
  g.push({ type: "text", silent: true, z: opts.z || 10, x, y: base - 0.35 * size, scaleX: opts.scaleX || 1,
    style: { text, fill, font: (opts.weight || "normal") + " " + size + "px " + family, align: opts.align || "left", verticalAlign: "middle" } });
}
function caption(x, base, text) { txt(x, base + 9, text, 91.5, "#000", SERIF, { weight: "bold", z: 12 }); }
function arrow(x1, y1, x2, y2) {
  const a = Math.atan2(y2 - y1, x2 - x1), L = 32, W = 11;
  const bx = x2 - L * Math.cos(a), by = y2 - L * Math.sin(a);
  seg(x1, y1, bx, by, colors.red, 4, 11);
  poly([[x2, y2], [bx - W * Math.sin(a), by + W * Math.cos(a)], [bx + W * Math.sin(a), by - W * Math.cos(a)]], colors.red, 11);
}
function star(cx, cy, r, inner, outer, z) {
  [[0, -1], [0, 1], [-1, 0], [1, 0], [-0.66, -0.72], [0.66, -0.72], [-0.66, 0.72], [0.66, 0.72]].forEach(d => {
    seg(cx + d[0] * 8, cy + d[1] * 8, cx + d[0] * r * 0.55, cy + d[1] * r * 0.55, inner, 4, z, [5, 4]);
    seg(cx + d[0] * r * 0.55, cy + d[1] * r * 0.55, cx + d[0] * r, cy + d[1] * r, outer, 3, z, [6, 6]);
  });
  poly([[cx, cy - 9], [cx + 7, cy], [cx, cy + 9], [cx - 7, cy]], "#0a0a05", z);
}
function header(x, y, w, h, barY, fill, yT, labels) {
  rect(x, y, w, h, fill, 2);
  rect(x, barY, w, 6, "#3c3c44", 2);
  star(labels.logoX, labels.logoY, 52, "#f07a10", "#8a4a08", 3);
  txt(labels.nameX, labels.nameBase, "Agilent Technologies", 50, "#ffffff", SANS, { weight: "bold", scaleX: 0.8 });
  rect(labels.chip1, yT, 71.5, barY - yT, colors.blue, 3);
  rect(labels.chip2, yT, 71.5, barY - yT, colors.magenta, 3);
  rect(1635, yT, 71, barY - yT, colors.magenta, 3);
  const b = labels.base, big = b + 3;
  txt(labels.chip1 + 36, big, "1", 50, "#fff", SANS, { align: "center" });
  txt(labels.chip2 + 36, big, "2", 50, "#fff", SANS, { align: "center" });
  txt(1670.5, big, "2", 50, "#fff", SANS, { align: "center" });
  txt(labels.ch1x, big, labels.ch1, 50, "#fff", SANS);
  txt(labels.dc1, b + 3, "DC", 30, "#fff", SANS);
  txt(labels.ch2x, big, labels.ch2, 50, "#fff", SANS);
  txt(labels.bw, b - 33, "BW", 30, "#fff", SANS);
  txt(labels.bw, b + 3, "DC", 30, "#fff", SANS);
  txt(labels.tbX, big, labels.tb, 50, "#fff", SANS);
  star(labels.trigX, labels.trigY, 30, "#d8d8d8", "#808080", 3);
  txt(labels.delayX, big, labels.delay, 50, "#fff", SANS, { scaleX: labels.delayScale || 1 });
  txt(1422, big, "Stop", 50, "#fff", SANS);
  txt(1745, big, "0.00 mV", 50, "#fff", SANS);
  const t = b - 45;
  seg(1582, t + 44, 1601, t + 44, "#fff", 5, 3); seg(1599, t + 44, 1599, t, "#fff", 5, 3); seg(1597, t, 1619, t, "#fff", 5, 3);
  poly([[1599, t + 8], [1608, t + 30], [1590, t + 30]], "#fff", 3);
  poly([[2006, t], [2040, t + 24], [2040, t + 28], [2006, t + 47]], "#fff", 3);
  rect(1986, t + 13, 22, 7, "#fff", 3); rect(1986, t + 29, 22, 7, "#fff", 3);
  seg(2038, t + 26, 2068, t + 26, "#fff", 7, 3); seg(2066, t + 26, 2095, t + 47, "#fff", 7, 3);
}

// panel 1 background and the zoom window
rect(151.5, 226, 1950.5, 614, "#4c4c4c", 1);
rect(23, 840, 2079, 8, "#3a3a42", 2);
rect(1077, 231, 77, 598, "#ffffff", 1);
rect(1066, 224, 11, 612, "#06060c", 8);
rect(1154, 224, 11, 612, "#06060c", 8);
rect(1066, 224, 99, 7, "#06060c", 8);
rect(1066, 829, 99, 7, "#06060c", 8);
rect(1165, 226, 2, 610, "#5c5c5c", 8);
poly([[657, 224], [699, 224], [678, 246]], "#0090d8", 8);
g.push({ type: "polygon", silent: true, z: 9, shape: { points: [[1107, 225], [1147, 225], [1127, 243]] }, style: { fill: "none", stroke: "#10a0d8", lineWidth: 3 } });
poly([[152, 848], [172, 848], [152, 869]], "#0096d8", 8);

header(23, 32, 2079, 188, 220, "#0a0a05", 146, {
  logoX: 88, logoY: 89, nameX: 163, nameBase: 107, chip1: 56, chip2: 420, base: 208, ch1: "2V/", ch1x: 154, dc1: 343,
  ch2: "2V/", ch2x: 517, bw: 707, tb: "100 ms/", tbX: 827, trigX: 1084, trigY: 188, delay: "5 ms/", delayX: 1188,
});
rect(1326, 43, 765, 87, "#000000", 3);
header(30, 1463, 2070, 187, 1650, "#000000", 1577, {
  logoX: 95, logoY: 1521, nameX: 173, nameBase: 1537, chip1: 63, chip2: 425, base: 1638, ch1: "5V/", ch1x: 160, dc1: 350,
  ch2: "5V/", ch2x: 524, bw: 710, tb: "5 ms/", tbX: 857, trigX: 1086, trigY: 1619, delay: "-69.50 ms", delayX: 1138, delayScale: 0.97,
});
g.push({ type: "polygon", silent: true, z: 9, shape: { points: [[1110, 1656], [1150, 1656], [1130, 1677]] }, style: { fill: "none", stroke: "#18a8c8", lineWidth: 3 } });
poly([[2072, 1655], [2098, 1655], [2098, 1678]], "#10a0c0", 8);

// panel 3 footer
rect(30, 2891, 2068, 73, "#000000", 2);
rect(34, 2897, 512, 63, "#1a1a40", 3);
seg(34, 2898, 546, 2898, "#d8d8e0", 2, 4); seg(546, 2897, 546, 2960, "#d8d8e0", 2, 4);
txt(86, 2949, "AVG(2): -157.465 mV", 42.5, "#c8ccd8", SANS);

// channel markers
function marker(cy, digit, col, shadow) {
  txt(90, cy + 20, digit, 58, shadow, SANS, { weight: "bold", align: "center" });
  txt(87, cy + 18, digit, 58, col, SANS, { weight: "bold", align: "center" });
  rect(98, cy - 37, 36, 6, shadow, 9); rect(113, cy - 37, 6, 37, shadow, 9);
  rect(113, cy, 6, 26, col, 9); rect(113, cy - 3, 20, 6, col, 9);
  poly([[127, cy - 21], [150, cy], [127, cy + 22]], col, 9);
  rect(98, cy + 26, 36, 5, shadow, 9); rect(103, cy + 34, 26, 5, col, 9); rect(108, cy + 42, 16, 5, shadow, 9);
}
marker(533, "1", colors.blue, colors.magenta);
marker(1155, "1", colors.blue, colors.magenta);
txt(97, 1976, "1", 58, colors.blue, SANS, { weight: "bold", align: "center" });
poly([[135, 1939], [157, 1960], [135, 1981]], colors.blue, 9);
rect(122, 1958, 16, 3, colors.blue, 9); rect(122, 1958, 3, 26, colors.blue, 9);
rect(107, 1985, 33, 4, colors.blue, 9); rect(112, 1992, 23, 4, colors.blue, 9); rect(117, 1999, 14, 4, colors.blue, 9);
txt(97, 2306, "2", 58, colors.magenta, SANS, { weight: "bold", align: "center" });
poly([[135, 2268], [157, 2288], [135, 2308]], colors.magenta, 9);
rect(107, 2249, 33, 6, colors.magenta, 9); rect(121, 2249, 5, 62, colors.magenta, 9);
rect(107, 2312, 33, 4, colors.magenta, 9); rect(112, 2319, 23, 4, colors.magenta, 9); rect(117, 2326, 14, 4, colors.magenta, 9);
rect(121, 2639, 10, 41, colors.green, 9);
poly([[135, 2658], [157, 2679], [135, 2700]], colors.green, 9);

// captions
caption(631, 915.5, "Grid Voltage");
caption(369, 1423.7, "Internal Generated Voltage");
caption(1045, 1753, "Grid Voltage");
caption(782, 2095.6, "Internal Generated Voltage");
caption(398, 2404, "Inverter AC");
caption(487.5, 2512, "Voltage");
arrow(539.5, 988, 606, 944);
arrow(425.5, 1150, 524, 1358);
arrow(894, 1802, 959, 1758);
arrow(1428.5, 2227, 1265, 2128);
arrow(293, 2557, 393, 2457);

// readouts
const GREY = "#404040", B = { weight: "bold" };
txt(1460, 1040, "\u0394X = 13. 00 ms", 42, GREY, MONO, B);
txt(1460, 1091, "1/\u0394X = 3. 85 Hz", 42, GREY, MONO, B);
txt(1460, 1144, "\u0394Y(1) = 2. 88 V", 42, GREY, MONO, B);
txt(1462, 2466, "\u0394X = 49. 20 ms", 42, GREY, MONO, B);
txt(1462, 2517, "1/ \u0394X = 20. 33 Hz", 41, GREY, MONO, { weight: "bold", scaleX: 0.96 });
txt(1462, 2570, "\u0394Y(1) = 104. 17 mV", 41, GREY, MONO, B);
txt(168, 1701, "Scale: 5V/", 39, GREY, MONO, B);
txt(168, 1749, "Offset: 13. 13 V", 39, GREY, MONO, B);

const chart = echarts.init(document.getElementById("c"), null, { renderer: "canvas" });
chart.setOption({
  backgroundColor: "#ffffff",
  animation: false,
  grid: [
    Object.assign({ containLabel: false }, panel1),
    Object.assign({ containLabel: false }, panel2),
    Object.assign({ containLabel: false }, panel3),
  ],
  xAxis: [xAxis(0, -600, 600, 100), xAxis(1, -30, 30, 5), xAxis(2, -30, 30, 5)],
  yAxis: [
    yAxis(0, -8, 8, 2, true),
    yAxis(1, -8, 8, 2, true),
    yAxis(2, -30, 10, 5, true),
    yAxis(2, -19.6, 20.4, 5, false),
    yAxis(2, -6.75, 33.25, 5, false),
  ],
  series,
  graphic: { elements: g },
});
</script>
</body>
</html>
